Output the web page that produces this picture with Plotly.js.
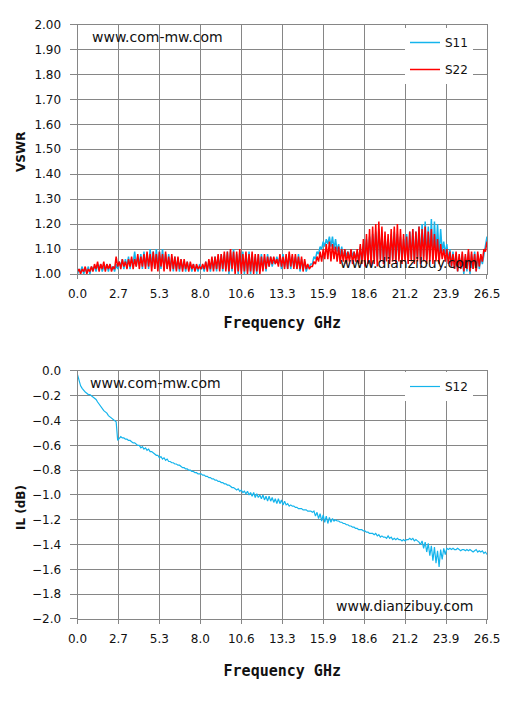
<!DOCTYPE html>
<html>
<head>
<meta charset="utf-8">
<script src="https://cdn.plot.ly/plotly-3.0.1.min.js"></script>
<style>html,body{margin:0;padding:0;background:#fff;}#chart{width:513px;height:703px;}</style>
</head>
<body>
<div id="chart"></div>
<script>
// Frequency sweep grid (GHz), 0.0 to 26.5 in 0.1 GHz steps
const freqStart = 0.0, freqStep = 0.1, freqCount = 266;
const freq = [];
for (let i = 0; i < freqCount; i++) freq.push(+(freqStart + i * freqStep).toFixed(1));

const tickVals = [0, 2.65, 5.3, 7.95, 10.6, 13.25, 15.9, 18.55, 21.2, 23.85, 26.5];
const tickText = ["0.0", "2.7", "5.3", "8.0", "10.6", "13.3", "15.9", "18.6", "21.2", "23.9", "26.5"];

// VSWR S11 (blue)
const s11 = [
1.00,1.02,1.01,1.03,1.00,1.02,1.01,1.03,1.00,1.03,
1.02,1.03,1.01,1.04,1.02,1.04,1.01,1.03,1.02,1.04,
1.01,1.04,1.02,1.03,1.01,1.04,1.02,1.05,1.03,1.06,
1.02,1.06,1.03,1.07,1.02,1.06,1.04,1.09,1.03,1.07,
1.04,1.08,1.02,1.09,1.03,1.08,1.02,1.10,1.03,1.09,
1.02,1.10,1.03,1.09,1.02,1.10,1.03,1.08,1.02,1.08,
1.02,1.07,1.01,1.07,1.02,1.06,1.01,1.06,1.02,1.05,
1.01,1.05,1.02,1.04,1.01,1.04,1.02,1.03,1.01,1.04,
1.02,1.03,1.01,1.05,1.02,1.05,1.01,1.06,1.02,1.07,
1.01,1.07,1.02,1.08,1.01,1.08,1.02,1.09,1.00,1.09,
1.01,1.10,1.01,1.08,1.00,1.09,1.01,1.09,1.00,1.08,
1.01,1.09,1.00,1.08,1.01,1.07,1.00,1.08,1.01,1.08,
1.02,1.07,1.01,1.08,1.03,1.07,1.03,1.06,1.04,1.07,
1.04,1.07,1.02,1.08,1.03,1.07,1.02,1.08,1.02,1.07,
1.03,1.07,1.02,1.08,1.01,1.06,1.02,1.05,1.01,1.03,
1.03,1.04,1.04,1.07,1.06,1.09,1.08,1.11,1.10,1.13,
1.11,1.14,1.12,1.15,1.11,1.15,1.10,1.14,1.09,1.12,
1.07,1.11,1.06,1.10,1.07,1.09,1.06,1.10,1.07,1.09,
1.06,1.09,1.05,1.11,1.04,1.12,1.05,1.14,1.06,1.15,
1.05,1.16,1.06,1.17,1.05,1.18,1.06,1.16,1.05,1.15,
1.06,1.14,1.05,1.16,1.06,1.17,1.05,1.16,1.06,1.15,
1.05,1.14,1.06,1.16,1.05,1.17,1.06,1.18,1.05,1.17,
1.06,1.19,1.05,1.20,1.07,1.21,1.06,1.19,1.07,1.22,
1.06,1.21,1.08,1.20,1.07,1.18,1.09,1.13,1.08,1.12,
1.05,1.10,1.03,1.09,1.02,1.08,1.01,1.07,1.02,1.08,
1.00,1.07,1.01,1.09,1.00,1.08,1.02,1.09,1.01,1.08,
1.02,1.07,1.04,1.08,1.11,1.15
];

// VSWR S22 (red)
const s22 = [
1.01,1.02,1.00,1.02,1.01,1.03,1.00,1.02,1.01,1.03,
1.01,1.04,1.02,1.05,1.01,1.04,1.02,1.05,1.01,1.04,
1.02,1.04,1.01,1.03,1.02,1.07,1.03,1.05,1.02,1.06,
1.03,1.05,1.02,1.06,1.03,1.07,1.02,1.06,1.03,1.08,
1.02,1.07,1.03,1.08,1.02,1.09,1.03,1.08,1.01,1.09,
1.02,1.08,1.01,1.09,1.03,1.08,1.01,1.09,1.02,1.07,
1.01,1.08,1.02,1.07,1.01,1.07,1.02,1.06,1.01,1.06,
1.02,1.05,1.01,1.05,1.02,1.04,1.01,1.04,1.02,1.03,
1.02,1.04,1.02,1.05,1.01,1.06,1.02,1.07,1.01,1.07,
1.02,1.08,1.01,1.08,1.02,1.09,1.01,1.09,1.01,1.10,
1.02,1.09,1.00,1.09,1.01,1.10,1.00,1.08,1.01,1.09,
1.00,1.08,1.01,1.09,1.00,1.08,1.01,1.08,1.00,1.07,
1.01,1.08,1.02,1.07,1.03,1.07,1.04,1.07,1.04,1.06,
1.03,1.08,1.03,1.07,1.02,1.08,1.02,1.09,1.03,1.08,
1.02,1.08,1.02,1.07,1.02,1.07,1.01,1.06,1.02,1.04,
1.02,1.03,1.03,1.05,1.04,1.07,1.05,1.09,1.05,1.10,
1.06,1.12,1.06,1.13,1.05,1.12,1.06,1.11,1.05,1.11,
1.04,1.10,1.05,1.10,1.04,1.09,1.05,1.10,1.04,1.09,
1.05,1.10,1.04,1.12,1.04,1.14,1.03,1.16,1.04,1.18,
1.03,1.19,1.04,1.20,1.03,1.21,1.05,1.19,1.04,1.17,
1.05,1.16,1.04,1.18,1.05,1.19,1.04,1.20,1.05,1.18,
1.04,1.16,1.05,1.15,1.04,1.17,1.05,1.18,1.04,1.17,
1.05,1.19,1.04,1.18,1.05,1.19,1.04,1.17,1.05,1.18,
1.04,1.16,1.05,1.14,1.04,1.12,1.06,1.10,1.05,1.10,
1.04,1.09,1.03,1.08,1.02,1.09,1.01,1.08,1.02,1.09,
1.01,1.08,1.02,1.10,1.01,1.09,1.02,1.08,1.01,1.09,
1.03,1.08,1.05,1.10,1.09,1.13
];

// Insertion loss S12 (dB)
const s12 = [
-0.03,-0.08,-0.12,-0.14,-0.16,-0.17,-0.18,-0.19,-0.19,-0.20,
-0.21,-0.22,-0.23,-0.25,-0.27,-0.29,-0.30,-0.32,-0.33,-0.34,
-0.36,-0.37,-0.38,-0.39,-0.395,-0.41,-0.56,-0.54,-0.53,-0.54,
-0.54,-0.55,-0.55,-0.56,-0.56,-0.57,-0.58,-0.58,-0.59,-0.60,
-0.60,-0.62,-0.61,-0.63,-0.62,-0.64,-0.63,-0.65,-0.65,-0.66,
-0.67,-0.68,-0.68,-0.70,-0.69,-0.71,-0.70,-0.72,-0.71,-0.73,
-0.73,-0.74,-0.74,-0.75,-0.75,-0.76,-0.76,-0.77,-0.78,-0.78,
-0.79,-0.79,-0.80,-0.80,-0.81,-0.81,-0.82,-0.82,-0.83,-0.83,
-0.83,-0.84,-0.84,-0.85,-0.85,-0.86,-0.86,-0.87,-0.87,-0.88,
-0.88,-0.89,-0.89,-0.90,-0.90,-0.91,-0.91,-0.92,-0.92,-0.93,
-0.94,-0.94,-0.95,-0.96,-0.95,-0.97,-0.96,-0.98,-0.97,-0.99,
-0.97,-1.00,-0.98,-1.01,-0.98,-1.02,-0.99,-1.02,-1.00,-1.03,
-1.00,-1.04,-1.01,-1.05,-1.01,-1.05,-1.02,-1.06,-1.03,-1.07,
-1.03,-1.07,-1.04,-1.08,-1.05,-1.08,-1.07,-1.09,-1.08,-1.09,
-1.09,-1.10,-1.10,-1.11,-1.11,-1.11,-1.12,-1.12,-1.12,-1.13,
-1.13,-1.13,-1.14,-1.13,-1.17,-1.14,-1.19,-1.15,-1.21,-1.16,
-1.22,-1.17,-1.23,-1.18,-1.22,-1.19,-1.21,-1.20,-1.21,-1.21,
-1.22,-1.22,-1.23,-1.23,-1.24,-1.24,-1.25,-1.25,-1.26,-1.26,
-1.27,-1.27,-1.28,-1.28,-1.28,-1.29,-1.29,-1.30,-1.30,-1.31,
-1.31,-1.31,-1.32,-1.31,-1.33,-1.32,-1.34,-1.33,-1.34,-1.34,
-1.35,-1.33,-1.35,-1.34,-1.36,-1.35,-1.36,-1.35,-1.36,-1.36,
-1.37,-1.36,-1.37,-1.36,-1.36,-1.35,-1.36,-1.35,-1.37,-1.36,
-1.37,-1.38,-1.40,-1.37,-1.43,-1.38,-1.46,-1.39,-1.49,-1.41,
-1.53,-1.42,-1.55,-1.45,-1.58,-1.44,-1.52,-1.43,-1.48,-1.43,
-1.44,-1.43,-1.44,-1.43,-1.44,-1.44,-1.43,-1.44,-1.45,-1.44,
-1.44,-1.45,-1.44,-1.45,-1.44,-1.45,-1.46,-1.45,-1.44,-1.46,
-1.45,-1.46,-1.45,-1.47,-1.46,-1.48
];

const BLUE = '#14b4ec', RED = '#ff0000', GRID = '#868686';
const tickFont = {family: 'DejaVu Sans', size: 12, color: '#111'};
const xTitleFont = {family: 'DejaVu Sans Mono', size: 15, color: '#111', weight: 'bold'};
const noteFont = {family: 'DejaVu Sans', size: 14, color: '#111'};

function xAxis(anchor, standoff) {
  return {
    domain: [0.1511, 0.9493], anchor: anchor, range: [0, 26.5],
    tickmode: 'array', tickvals: tickVals, ticktext: tickText,
    showgrid: true, gridcolor: GRID, gridwidth: 1, zeroline: false,
    showline: true, linecolor: GRID, linewidth: 1, mirror: true,
    ticks: 'outside', ticklen: 4, tickcolor: GRID, tickwidth: 1,
    tickfont: tickFont, ticklabelstandoff: 5,
    title: {text: 'Frequency GHz', font: xTitleFont, standoff: standoff}
  };
}
function yAxis(anchor, domain, range, dtick, fmt) {
  return {
    domain: domain, anchor: anchor, range: range, dtick: dtick, tick0: 0, tickformat: fmt,
    showgrid: true, gridcolor: GRID, gridwidth: 1, zeroline: false,
    showline: true, linecolor: GRID, linewidth: 1, mirror: true,
    ticks: 'outside', ticklen: 7, tickcolor: GRID, tickwidth: 1,
    tickfont: tickFont, ticklabelstandoff: 6
  };
}

const traces = [
  {x: freq, y: s11, name: 'S11', type: 'scatter', mode: 'lines', xaxis: 'x', yaxis: 'y',
   line: {color: BLUE, width: 1.5}, legend: 'legend', legendgroup: 'a'},
  {x: freq, y: s22, name: 'S22', type: 'scatter', mode: 'lines', xaxis: 'x', yaxis: 'y',
   line: {color: RED, width: 1.5}, legend: 'legend', legendgroup: 'b'},
  {x: freq, y: s12, name: 'S12', type: 'scatter', mode: 'lines', xaxis: 'x2', yaxis: 'y2',
   line: {color: BLUE, width: 1.2}, legend: 'legend2'}
];

function note(text, xpx, ypx, font, anchor, angle) {
  return {text: text, xref: 'paper', yref: 'paper', x: xpx / 513, y: 1 - ypx / 703,
    xanchor: anchor || 'left', yanchor: 'middle', showarrow: false, font: font,
    textangle: angle || 0};
}
const yTitleFont = {family: 'DejaVu Sans', size: 12, color: '#111', weight: 'bold'};

const layout = {
  width: 513, height: 703, autosize: false,
  margin: {l: 0, r: 0, t: 0, b: 0},
  paper_bgcolor: '#fff', plot_bgcolor: '#fff',
  showlegend: true,
  xaxis: xAxis('y', 17),
  yaxis: yAxis('x', [0.6102, 0.9651], [1, 2], 0.1, '.2f'),
  xaxis2: xAxis('y2', 20),
  yaxis2: yAxis('x2', [0.1195, 0.4723], [-2, 0], 0.2, '.1f'),
  legend: {x: 405 / 513, y: 1 - 28 / 703, xanchor: 'left', yanchor: 'top', bgcolor: '#fff',
    borderwidth: 0, font: {family: 'DejaVu Sans', size: 12, color: '#111'}, tracegroupgap: 8,
    traceorder: 'grouped', itemwidth: 30},
  legend2: {x: 405 / 513, y: 1 - 372 / 703, xanchor: 'left', yanchor: 'top', bgcolor: '#fff',
    borderwidth: 0, font: {family: 'DejaVu Sans', size: 12, color: '#111'}, itemwidth: 30},
  annotations: [
    note('www.com-mw.com', 90, 37, noteFont),
    note('www.dianzibuy.com', 338, 263, noteFont),
    note('www.com-mw.com', 88, 383, noteFont),
    note('www.dianzibuy.com', 334, 606, noteFont),
    note('VSWR', 21, 152, yTitleFont, 'center', -90),
    note('IL (dB)', 21, 508, yTitleFont, 'center', -90)
  ]
};

Plotly.newPlot('chart', traces, layout, {displayModeBar: false, staticPlot: true});
</script>
</body>
</html>
